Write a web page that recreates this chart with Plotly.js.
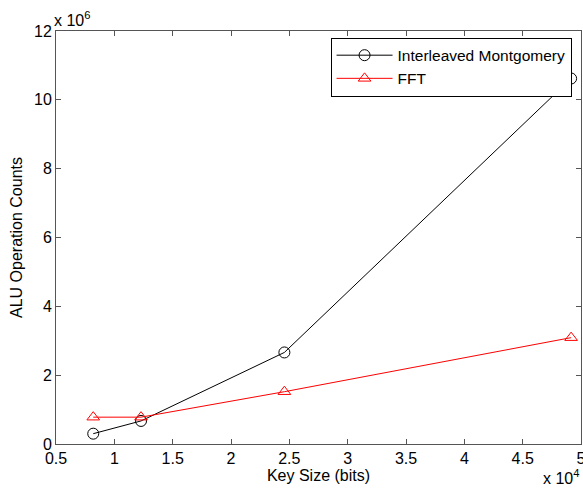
<!DOCTYPE html>
<html>
<head>
<meta charset="utf-8">
<script src="https://cdn.plot.ly/plotly-3.0.1.min.js"></script>
<style>html,body{margin:0;padding:0;background:#fff;}#chart{width:583px;height:492px;}</style>
</head>
<body>
<div id="chart"></div>
<script>
const keySizes = [8192, 12288, 24576, 49152];
const montgomery = [0.30e6, 0.67e6, 2.66e6, 10.62e6];
const fft = [0.78e6, 0.78e6, 1.52e6, 3.09e6];
const seriesNames = ["Interleaved Montgomery", "FFT"];
const xTickVals = [5000, 10000, 15000, 20000, 25000, 30000, 35000, 40000, 45000, 50000];
const xTickText = ["0.5", "1", "1.5", "2", "2.5", "3", "3.5", "4", "4.5", "5"];
const yTickVals = [0, 2e6, 4e6, 6e6, 8e6, 10e6, 12e6];
const yTickText = ["0", "2", "4", "6", "8", "10", "12"];

const font = "Liberation Sans, Arial, sans-serif";
const traces = [
  {x: keySizes, y: montgomery, name: seriesNames[0], type: "scatter", mode: "lines+markers",
   line: {color: "#000000", width: 1}, marker: {symbol: "circle-open", size: 11, color: "#000000", line: {width: 1}}},
  {x: keySizes, y: fft, name: seriesNames[1], type: "scatter", mode: "lines+markers",
   line: {color: "#ff0000", width: 1}, marker: {symbol: "triangle-up-open", size: 11, color: "#ff0000", line: {width: 1}}}
];
const axisCommon = {showline: true, linecolor: "#555555", linewidth: 1, mirror: "ticks", ticks: "inside",
  ticklen: 5, tickcolor: "#555555", showgrid: false, zeroline: false, ticklabeloverflow: "allow",
  tickfont: {family: font, size: 16, color: "#000"}};
const layout = {
  width: 583, height: 492,
  margin: {l: 56, r: 2, t: 31, b: 48},
  paper_bgcolor: "#fff", plot_bgcolor: "#fff",
  font: {family: font, size: 16, color: "#000"},
  showlegend: true,
  legend: {x: 0.982, y: 0.984, xanchor: "right", yanchor: "top", bordercolor: "#000", borderwidth: 1,
    bgcolor: "#fff", font: {family: font, size: 15.5, color: "#000"}, tracegroupgap: 0, itemwidth: 56},
  xaxis: Object.assign({}, axisCommon, {range: [5000, 50000], tickmode: "array", tickvals: xTickVals, ticktext: xTickText,
    title: {text: "Key Size (bits)", font: {family: font, size: 16}, standoff: 0}}),
  yaxis: Object.assign({}, axisCommon, {range: [0, 12e6], tickmode: "array", tickvals: yTickVals, ticktext: yTickText,
    title: {text: "ALU Operation Counts", font: {family: font, size: 16}, standoff: 7}}),
  annotations: [
    {xref: "paper", yref: "paper", x: -0.008, y: 1, xanchor: "left", yanchor: "bottom", showarrow: false,
     text: "x 10<sup>6</sup>", font: {family: font, size: 16}},
    {xref: "paper", yref: "paper", x: 1.0, y: -0.108, xanchor: "right", yanchor: "bottom", showarrow: false,
     text: "x 10<sup>4</sup>", font: {family: font, size: 16}}
  ]
};
Plotly.newPlot("chart", traces, layout, {displayModeBar: false, staticPlot: true});
</script>
</body>
</html>
